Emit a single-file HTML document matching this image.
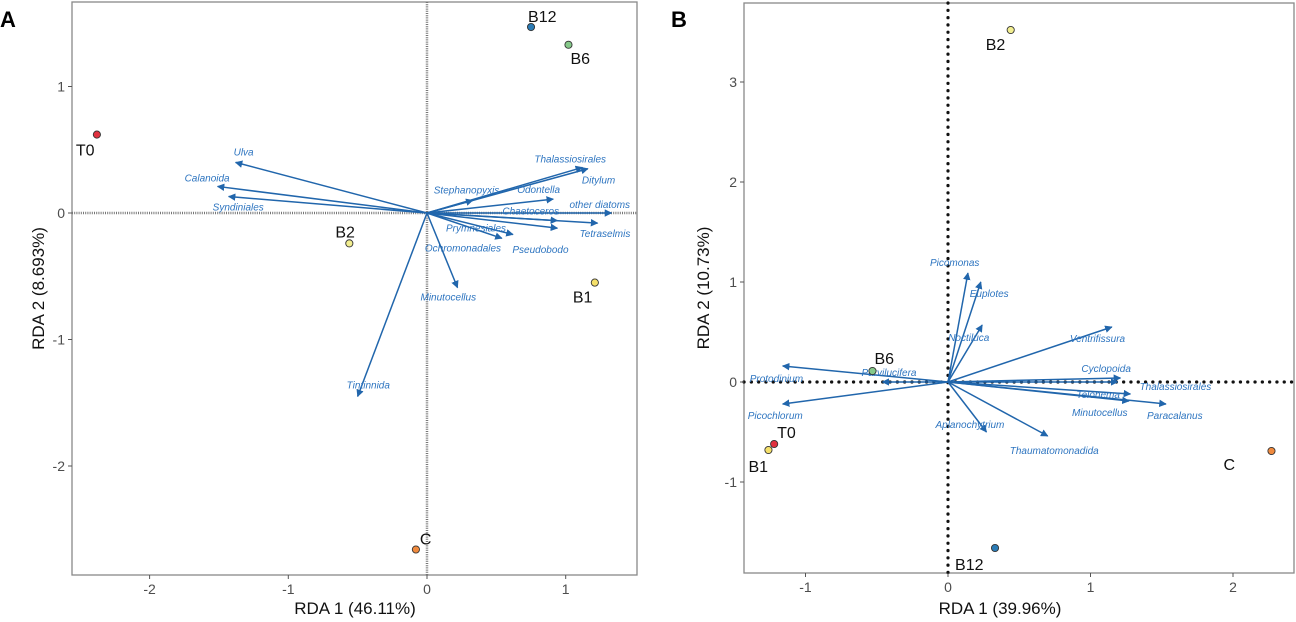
<!DOCTYPE html>
<html><head><meta charset="utf-8"><style>
html,body{margin:0;padding:0;background:#fff;}
svg{display:block;font-family:"Liberation Sans",Arial,sans-serif;}
.sp{fill:#2e75c0;font-style:italic;font-size:10px;}
.tick{fill:#4d4d4d;font-size:14px;}
.pl{fill:#111;font-size:16px;}
.at{fill:#111;font-size:17px;}
</style></head><body>
<svg id="chart" width="1296" height="622" viewBox="0 0 1296 622" xmlns="http://www.w3.org/2000/svg">
<defs>
<marker id="ah" viewBox="0 0 10 10" refX="9" refY="5" markerWidth="5" markerHeight="5" orient="auto-start-reverse"><path d="M0,0 L10,5 L0,10 z" fill="#2166ac"/></marker>
</defs>
</svg>
<script>
// ---- Panel A data ----
const aXTicks=[-2,-1,0,1];
const aYTicks=[-2,-1,0,1];
const aSites=['T0','B12','B6','B2','B1','C'];
const aSiteX=[-2.38,0.75,1.02,-0.56,1.21,-0.08];
const aSiteY=[0.62,1.47,1.33,-0.24,-0.55,-2.66];
const aSpecies=['Ulva','Calanoida','Syndiniales','Thalassiosirales','Ditylum','Stephanopyxis','Odontella','other diatoms','Chaetoceros','Tetraselmis','Prymnesiales','Ochromonadales','Pseudobodo','Minutocellus','Tintinnida'];
const aSpX=[-1.38,-1.51,-1.43,1.12,1.16,0.33,0.91,1.33,0.94,1.23,0.62,0.54,0.94,0.22,-0.50];
const aSpY=[0.40,0.21,0.13,0.36,0.35,0.10,0.11,0.0,-0.06,-0.08,-0.17,-0.20,-0.12,-0.59,-1.45];
// ---- Panel B data ----
const bXTicks=[-1,0,1,2];
const bYTicks=[-1,0,1,2,3];
const bSites=['B2','B6','T0','B1','C','B12'];
const bSiteX=[0.44,-0.53,-1.22,-1.26,2.27,0.33];
const bSiteY=[3.52,0.11,-0.62,-0.68,-0.69,-1.66];
const bSpecies=['Picomonas','Euplotes','Noctiluca','Ventrifissura','Cyclopoida','Thalassiosirales','Telonema','Minutocellus','Paracalanus','Thaumatomonadida','Aplanochytrium','Protodinium','Parvilucifera','Picochlorum'];
const bSpX=[0.14,0.23,0.24,1.15,1.21,1.19,1.28,1.27,1.53,0.70,0.27,-1.16,-0.46,-1.16];
const bSpY=[1.09,1.00,0.57,0.55,0.04,0.0,-0.12,-0.19,-0.22,-0.54,-0.50,0.16,0.0,-0.22];

const colors={T0:'#e0313f',B12:'#2b7bb5',B6:'#86c98a',B2:'#f2ee90',B1:'#f5e06a',C:'#f08a3e'};
const svg=document.getElementById('chart');
const NS='http://www.w3.org/2000/svg';
function mk(tag,attrs,parent){const e=document.createElementNS(NS,tag);for(const k in attrs)e.setAttribute(k,attrs[k]);(parent||svg).appendChild(e);return e;}

function panel(cfg){
  const g=mk('g',{});
  
  
  const X=v=>cfg.ox+v*cfg.sx, Y=v=>cfg.oy-v*cfg.sy;
  const fr=mk('rect',{x:cfg.l,y:cfg.t,width:cfg.r-cfg.l,height:cfg.b-cfg.t,fill:'#fff',stroke:'#888','stroke-width':1.3},g);
  
  
  const zl=cfg.dots?{stroke:'#111','stroke-width':3.2,'stroke-dasharray':'0.1 7.2','stroke-linecap':'round'}:{stroke:'#777','stroke-width':2.5,'stroke-dasharray':'1 1.2'};
  const h=mk('line',Object.assign({x1:cfg.l,x2:cfg.r,y1:Y(0),y2:Y(0)},zl),g);
  
  
  const v=mk('line',Object.assign({x1:X(0),x2:X(0),y1:cfg.t,y2:cfg.b},zl),g);
  
  
  cfg.xt.forEach(t=>{
    mk('line',{x1:X(t),x2:X(t),y1:cfg.b,y2:cfg.b+4,stroke:'#555'},g);
    const tx=mk('text',{x:X(t),y:cfg.b+19,'text-anchor':'middle',class:'tick'},g);tx.textContent=t;
    
    
  });
  cfg.yt.forEach(t=>{
    mk('line',{x1:cfg.l-4,x2:cfg.l,y1:Y(t),y2:Y(t),stroke:'#555'},g);
    const tx=mk('text',{x:cfg.l-7,y:Y(t)+5,'text-anchor':'end',class:'tick'},g);tx.textContent=t;
    
    
  });
  cfg.spX.forEach((sx,i)=>{
    const a=mk('line',{x1:X(0),y1:Y(0),x2:X(sx),y2:Y(cfg.spY[i]),stroke:'#2166ac','stroke-width':1.5,'marker-end':'url(#ah)'},g);
    
    
    const off=cfg.off[i];
    if(cfg.sp[i]){
      const t=mk('text',{x:X(sx)+off[0],y:Y(cfg.spY[i])+off[1],class:'sp'},g);t.textContent=cfg.sp[i];
      
      
    }
  });
  cfg.sites.forEach((s,i)=>{
    const c=mk('circle',{cx:X(cfg.siteX[i]),cy:Y(cfg.siteY[i]),r:3.6,fill:colors[s],stroke:'#333','stroke-width':0.9},g);
    
    
    const o=cfg.soff[i];
    const t=mk('text',{x:X(cfg.siteX[i])+o[0],y:Y(cfg.siteY[i])+o[1],class:'pl'},g);t.textContent=s;
    
    
  });
  const xt=mk('text',{x:cfg.xtx,y:614,'text-anchor':'middle',class:'at'},g);xt.textContent=cfg.xtitle;
  
  
  const yt=mk('text',{x:0,y:0,'text-anchor':'middle',class:'at',transform:`translate(${cfg.ytx},${(cfg.t+cfg.b)/2}) rotate(-90)`},g);yt.textContent=cfg.ytitle;
  
  
  const pl=mk('text',{x:cfg.px,y:27,'font-size':'22','font-weight':'bold',fill:'#000'},g);pl.textContent=cfg.letter;
  
  
}

panel({name:'panel-a',letter:'A',px:0,l:72,r:637,t:2,b:575,ox:427,oy:213,sx:138.7,sy:126.5,dots:false,
  xt:aXTicks,yt:aYTicks,sites:aSites,siteX:aSiteX,siteY:aSiteY,sp:aSpecies,spX:aSpX,spY:aSpY,
  off:[[-2,-7],[-33,-5],[-16,14],[-48,-5],[-6,15],[-39,-7],[-36,-6],[-42,-5],[-55,-6],[-18,14],[-67,-3],[-77,13],[-45,25],[-37,13],[-11,-8]],
  soff:[[-21,21],[-3,-5],[2,19],[-14,-6],[-22,20],[4,-5]],
  xtitle:'RDA 1 (46.11%)',xtx:355,ytitle:'RDA 2 (8.693%)',ytx:44});

panel({name:'panel-b',letter:'B',px:671,l:744,r:1294,t:3,b:573,ox:948,oy:382,sx:142.5,sy:100,dots:true,
  xt:bXTicks,yt:bYTicks,sites:bSites,siteX:bSiteX,siteY:bSiteY,sp:bSpecies,spX:bSpX,spY:bSpY,
  off:[[-38,-7],[-11,15],[-34,16],[-42,15],[-39,-6],[22,8],[-54,4],[-57,15],[-19,15],[-38,18],[-51,-4],[-33,16],[-21,-6],[-35,15]],
  soff:[[-25,20],[2,-7],[3,-6],[-20,22],[-48,19],[-40,22]],
  xtitle:'RDA 1 (39.96%)',xtx:1000,ytitle:'RDA 2 (10.73%)',ytx:709});
</script>
</body></html>
